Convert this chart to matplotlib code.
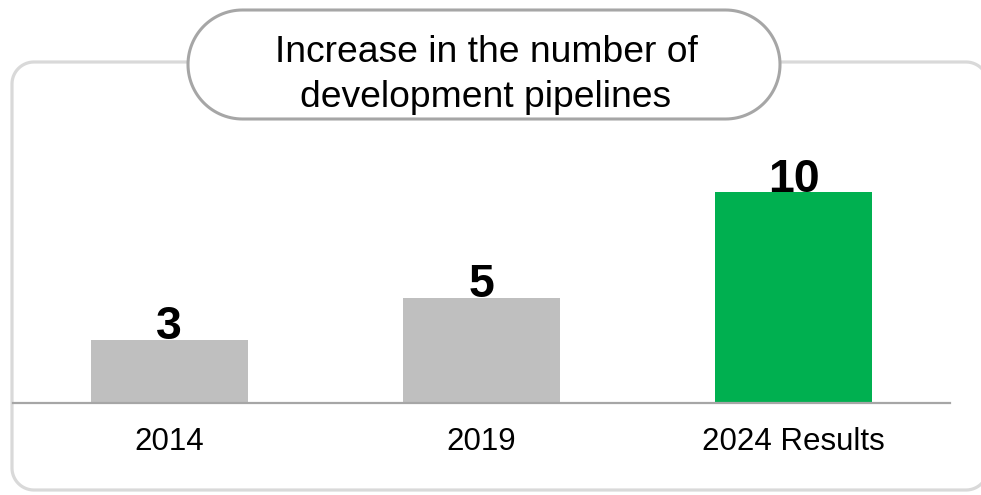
import numpy as np
import matplotlib.pyplot as plt
from matplotlib.patches import Polygon

plt.rcParams['font.family'] = ['Liberation Sans', 'DejaVu Sans']

categories = ['2014', '2019', '2024 Results']
pipelines = [3, 5, 10]
bar_colors = ['#bfbfbf', '#bfbfbf', '#00b050']
title_lines = ['Increase in the number of', 'development pipelines']

W, H = 981, 495
fig = plt.figure(figsize=(W / 100, H / 100), dpi=100)


def fx(px):
    return px / W


def fy(py):
    # pixel rows are counted from the top
    return 1 - py / H


def pixel_layer(z):
    # full-figure axes whose data units are pixels, origin at top-left
    lay = fig.add_axes([0, 0, 1, 1], zorder=z)
    lay.set_xlim(0, W)
    lay.set_ylim(H, 0)
    lay.axis('off')
    lay.patch.set_alpha(0)
    return lay


def rounded_box(x0, y0, x1, y1, r, n=30):
    # outline of a rectangle with circular corners
    pts = []
    corners = [(x1 - r, y0 + r, -90, 0), (x1 - r, y1 - r, 0, 90),
               (x0 + r, y1 - r, 90, 180), (x0 + r, y0 + r, 180, 270)]
    for cx, cy, a0, a1 in corners:
        t = np.radians(np.linspace(a0, a1, n))
        pts.extend(zip(cx + r * np.cos(t), cy + r * np.sin(t)))
    return np.array(pts)


# outer frame
back = pixel_layer(0)
back.add_patch(Polygon(rounded_box(12, 62, 988, 490, 22), closed=True,
                       facecolor='white', edgecolor='#d9d9d9',
                       linewidth=2.3, clip_on=False))

# bar axes
ax = fig.add_axes([fx(13), fy(403), fx(950) - fx(13), fy(150) - fy(403)], zorder=1)
ax.patch.set_alpha(0)
ax.bar(range(len(categories)), pipelines, width=0.503, color=bar_colors)
ax.set_xlim(-0.5, 2.5)
ax.set_ylim(0, 12)

for i, v in enumerate(pipelines):
    ax.text(i, v + 0.03, str(v), ha='center', va='baseline',
            fontsize=33.5, fontweight='bold', color='black')

for side in ['top', 'right', 'left']:
    ax.spines[side].set_visible(False)
ax.spines['bottom'].set_color('#a6a6a6')
ax.spines['bottom'].set_linewidth(1.6)
ax.set_yticks([])
ax.set_xticks(range(len(categories)))
ax.set_xticklabels(categories, fontsize=22.5)
ax.tick_params(axis='x', length=0, pad=17)

# title pill
front = pixel_layer(2)
front.add_patch(Polygon(rounded_box(188, 10, 780, 119, 54.5), closed=True,
                        facecolor='white', edgecolor='#a6a6a6',
                        linewidth=2.2, clip_on=False))
front.text(486, 62, title_lines[0], ha='center', va='baseline', fontsize=26.8)
front.text(486, 107, title_lines[1], ha='center', va='baseline', fontsize=26.8)

fig.savefig('out.png', dpi=100)
plt.close(fig)
